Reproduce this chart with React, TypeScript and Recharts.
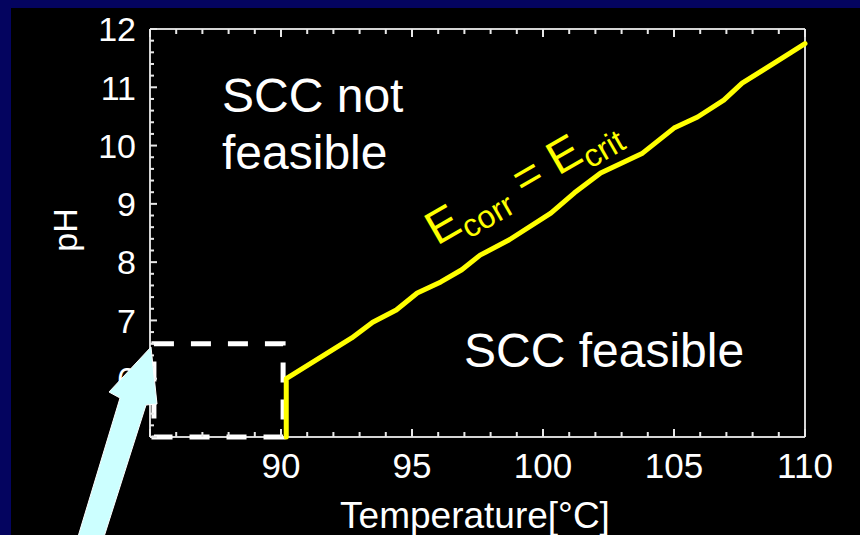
import { LineChart, Line, XAxis, YAxis, ReferenceArea } from "recharts";

// curve Ecorr = Ecrit
const temperature = [90.2, 90.2, 92.7, 93.5, 94.4, 95.2, 96.1, 96.9, 97.6, 98.7, 100.3, 101.2, 102.2, 103.8, 105.0, 105.9, 106.9, 107.6, 109.2, 110];
const phValues = [5, 6.0, 6.7, 6.97, 7.18, 7.47, 7.66, 7.87, 8.12, 8.38, 8.84, 9.19, 9.53, 9.87, 10.3, 10.49, 10.78, 11.07, 11.52, 11.75];

const tempTicks = [85, 86, 87, 88, 89, 90, 91, 92, 93, 94, 95, 96, 97, 98, 99, 100, 101, 102, 103, 104, 105, 106, 107, 108, 109, 110];
const tempLabels = [90, 95, 100, 105, 110];
const phTicks = [5, 5.2, 5.4, 5.6, 5.8, 6, 6.2, 6.4, 6.6, 6.8, 7, 7.2, 7.4, 7.6, 7.8, 8, 8.2, 8.4, 8.6, 8.8, 9, 9.2, 9.4, 9.6, 9.8, 10, 10.2, 10.4, 10.6, 10.8, 11, 11.2, 11.4, 11.6, 11.8, 12];
const phLabels = [6, 7, 8, 9, 10, 11, 12];

// dashed box in the lower left corner
const boxTemp = [85.15, 90.08];
const boxPh = [5, 6.6];

const data = temperature.map((t, i) => ({ t, ph: phValues[i] }));

const FONT = "'Liberation Sans', Arial, sans-serif";
const FRAME = "#d4d4d4";
const TICK = "#e8e8e8";

const isMajorX = (v: number) => v % 5 === 0;
const isMajorY = (v: number) => Math.abs(v - Math.round(v)) < 1e-6;

const BottomTick = ({ x, y, payload }: any) => {
  const v = payload.value;
  return (
    <g>
      <path d={`M${x},${y}V${y - (isMajorX(v) ? 8 : 5)}`} stroke={TICK} strokeWidth={2} />
      {tempLabels.includes(v) && (
        <text x={x} y={y + 41} textAnchor="middle" fill="#fff" fontSize={35} fontFamily={FONT}>
          {v}
        </text>
      )}
    </g>
  );
};

const TopTick = ({ x, y, payload }: any) => (
  <path d={`M${x},${y}V${y + (isMajorX(payload.value) ? 8 : 5)}`} stroke={TICK} strokeWidth={2} />
);

const LeftTick = ({ x, y, payload }: any) => {
  const v = payload.value;
  const major = isMajorY(v);
  return (
    <g>
      <path d={`M${x},${y}H${x + (major ? 7 : 4)}`} stroke={TICK} strokeWidth={2} />
      {major && phLabels.includes(Math.round(v)) && (
        <text x={x - 14} y={y} dy="0.36em" textAnchor="end" fill="#fff" fontSize={34} fontFamily={FONT}>
          {Math.round(v)}
        </text>
      )}
    </g>
  );
};

const RightTick = ({ x, y, payload }: any) => (
  <path d={`M${x},${y}H${x - (isMajorY(payload.value) ? 7 : 4)}`} stroke={TICK} strokeWidth={2} />
);

export default function App() {
  return (
    <div style={{ position: "absolute", left: 0, top: 0, width: 860, height: 535, background: "#04045f", overflow: "hidden" }}>
      <div style={{ position: "absolute", left: 11, top: 8, right: 0, bottom: 0, background: "#000" }} />
      <div style={{ position: "absolute", left: 0, top: 0 }}>
        <LineChart width={860} height={535} data={data} margin={{ top: 0, right: 0, bottom: 0, left: 0 }}>
          <XAxis
            xAxisId="bottom"
            dataKey="t"
            type="number"
            domain={[85, 110]}
            ticks={tempTicks}
            interval={0}
            height={98}
            tickSize={0}
            tickMargin={0}
            tick={<BottomTick />}
            axisLine={{ stroke: FRAME, strokeWidth: 2 }}
          />
          <XAxis
            xAxisId="top"
            orientation="top"
            dataKey="t"
            type="number"
            domain={[85, 110]}
            ticks={tempTicks}
            interval={0}
            height={29}
            tickSize={0}
            tickMargin={0}
            tick={<TopTick />}
            axisLine={{ stroke: FRAME, strokeWidth: 2 }}
          />
          <YAxis
            yAxisId="left"
            type="number"
            domain={[5, 12]}
            ticks={phTicks}
            interval={0}
            width={150}
            tickSize={0}
            tickMargin={0}
            tick={<LeftTick />}
            axisLine={{ stroke: FRAME, strokeWidth: 2 }}
          />
          <YAxis
            yAxisId="right"
            orientation="right"
            type="number"
            domain={[5, 12]}
            ticks={phTicks}
            interval={0}
            width={55}
            tickSize={0}
            tickMargin={0}
            tick={<RightTick />}
            axisLine={{ stroke: FRAME, strokeWidth: 2 }}
          />
          <ReferenceArea
            xAxisId="bottom"
            yAxisId="left"
            x1={boxTemp[0]}
            x2={boxTemp[1]}
            y1={boxPh[0]}
            y2={boxPh[1]}
            fill="none"
            fillOpacity={0}
            stroke="#ffffff"
            strokeWidth={5}
            strokeDasharray="20 17"
            zIndex={1200}
          />
          <Line
            xAxisId="bottom"
            yAxisId="left"
            type="linear"
            dataKey="ph"
            stroke="#ffff00"
            strokeWidth={5}
            strokeLinejoin="round"
            strokeLinecap="round"
            dot={false}
            isAnimationActive={false}
            zIndex={1300}
          />
        </LineChart>
      </div>
      <svg width={860} height={535} style={{ position: "absolute", left: 0, top: 0, pointerEvents: "none" }} fontFamily={FONT}>
        <text x={222} y={112} fill="#fff" fontSize={48}>SCC not</text>
        <text x={222} y={169} fill="#fff" fontSize={48}>feasible</text>
        <text x={464} y={367} fill="#fff" fontSize={48}>SCC feasible</text>
        <text x={65} y={230} fill="#fff" fontSize={34} textAnchor="middle" transform="rotate(-90 65 230)" dy="0.36em">
          pH
        </text>
        <text x={475} y={528} fill="#fff" fontSize={37} textAnchor="middle">
          Temperature[°C]
        </text>
        <text x={437} y={246} fill="#ffff00" fontSize={47} transform="rotate(-30 437 246)">
          E<tspan fontSize={32} dy={10}>corr</tspan>
          <tspan dy={-10}> = E</tspan>
          <tspan fontSize={32} dy={10}>crit</tspan>
        </text>
        <polygon
          points="77,540 103,540 146,405 157,404 151,347 109,392 120,398"
          fill="#ccffff"
          stroke="#ffffff"
          strokeWidth={1}
        />
      </svg>
    </div>
  );
}
